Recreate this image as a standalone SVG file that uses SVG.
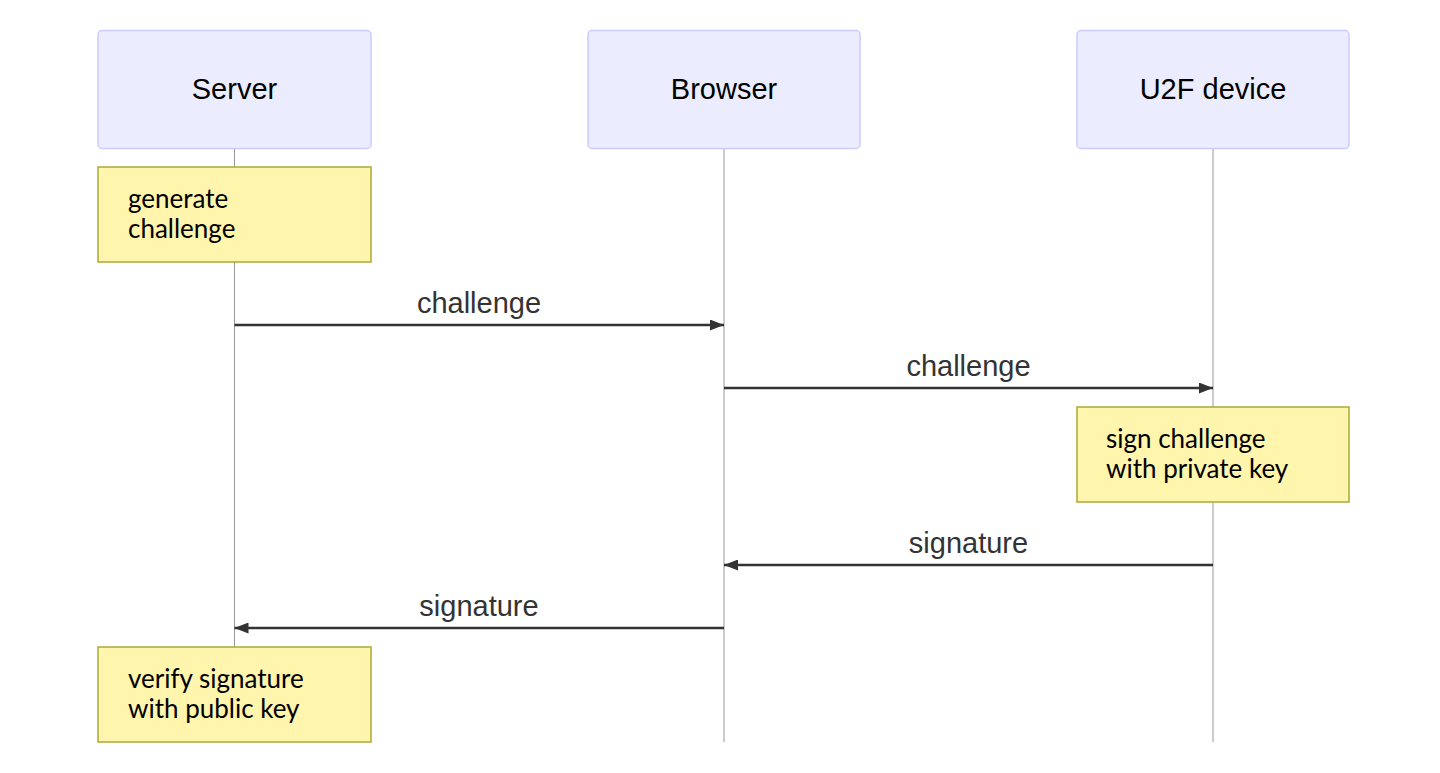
<svg xmlns="http://www.w3.org/2000/svg" width="1440" height="773" viewBox="0 0 1440 773">
<defs>
<marker id="arrow" viewBox="0 0 14 11" refX="14" refY="5.5" markerWidth="14" markerHeight="11" markerUnits="userSpaceOnUse" orient="auto">
<path d="M0,0 L14,5.5 L0,11 Z" fill="#333"/>
</marker>
<style>
.actor{fill:#ECECFF;stroke:#CCCCFF;stroke-width:1.5}
.actor-text{font-family:"Liberation Sans",Arial,sans-serif;font-size:29px;fill:#000;text-anchor:middle}
.lifeline{stroke:#999;stroke-width:1}
.note{fill:#FFF5AD;stroke:#AAAA33;stroke-width:1.5}
.note-text{font-family:Lato,"Open Sans",sans-serif;font-size:26px;fill:#000}
.msg{stroke:#333;stroke-width:2.5;fill:none;marker-end:url(#arrow)}
.msg-text{font-family:"Liberation Sans",Arial,sans-serif;font-size:29px;fill:#333;text-anchor:middle}
</style>
</defs>
<rect width="1440" height="773" fill="#fff"/>
<g id="lifelines">
<line class="lifeline" x1="234.5" y1="148" x2="234.5" y2="742"/>
<line class="lifeline" x1="724" y1="148" x2="724" y2="742"/>
<line class="lifeline" x1="1213" y1="148" x2="1213" y2="742"/>
</g>
<g id="actor-server">
<rect class="actor" x="98" y="30.5" width="273" height="118" rx="4"/>
<text class="actor-text" x="234.5" y="99">Server</text>
</g>
<g id="actor-browser">
<rect class="actor" x="588" y="30.5" width="272" height="118" rx="4"/>
<text class="actor-text" x="724" y="99">Browser</text>
</g>
<g id="actor-u2f">
<rect class="actor" x="1077" y="30.5" width="272" height="118" rx="4"/>
<text class="actor-text" x="1213" y="99">U2F device</text>
</g>
<g id="note-generate">
<rect class="note" x="98" y="167" width="273" height="95"/>
<text class="note-text" x="128" y="208">generate</text>
<text class="note-text" x="128" y="238">challenge</text>
</g>
<g id="note-sign">
<rect class="note" x="1077" y="407" width="272" height="95"/>
<text class="note-text" x="1106" y="448">sign challenge</text>
<text class="note-text" x="1106" y="478">with private key</text>
</g>
<g id="note-verify">
<rect class="note" x="98" y="647" width="273" height="95"/>
<text class="note-text" x="128" y="688">verify signature</text>
<text class="note-text" x="128" y="718">with public key</text>
</g>
<g id="connectors">
<line class="msg" x1="234.5" y1="325" x2="724" y2="325"/>
<text class="msg-text" x="479" y="313">challenge</text>
<line class="msg" x1="724" y1="388" x2="1213" y2="388"/>
<text class="msg-text" x="968.5" y="376">challenge</text>
<line class="msg" x1="1213" y1="565" x2="724" y2="565"/>
<text class="msg-text" x="968.5" y="553">signature</text>
<line class="msg" x1="724" y1="628" x2="234.5" y2="628"/>
<text class="msg-text" x="479" y="616">signature</text>
</g>
</svg>
